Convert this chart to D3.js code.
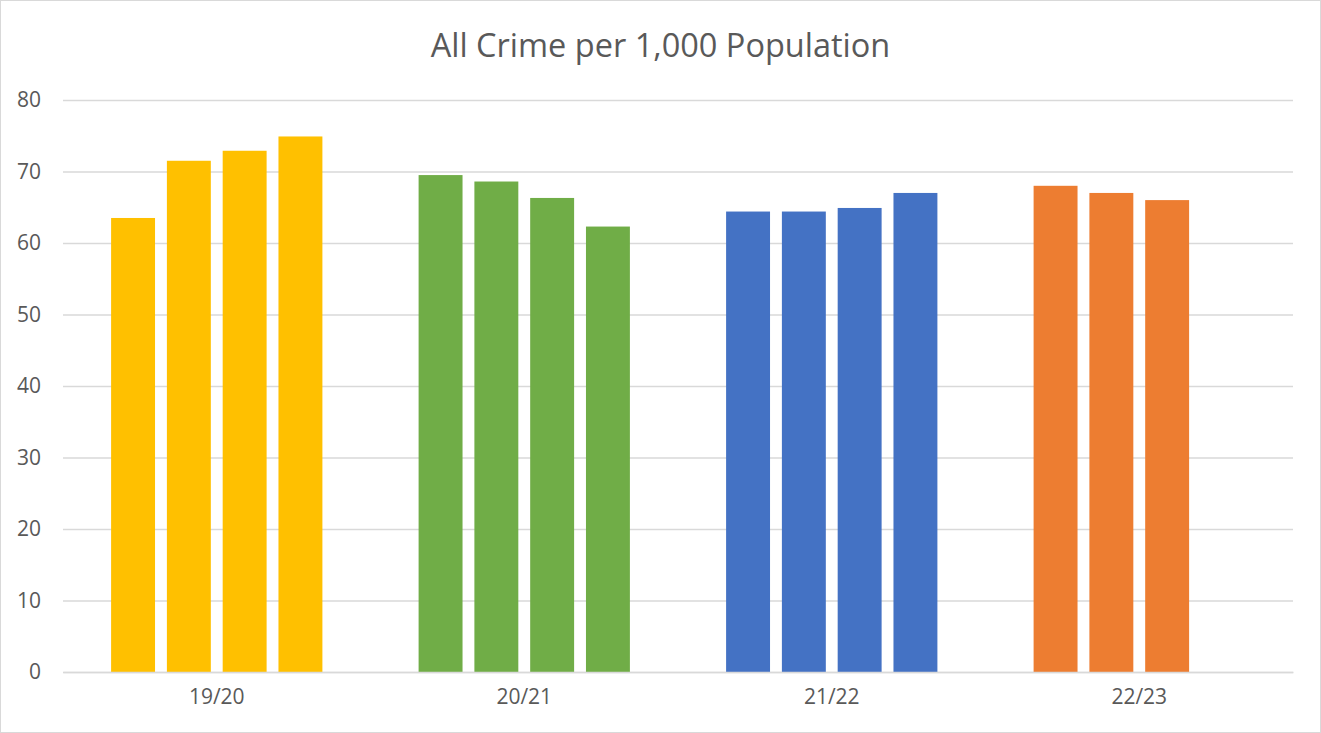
<!DOCTYPE html>
<html>
<head>
<meta charset="utf-8">
<script src="https://cdn.jsdelivr.net/npm/d3@7"></script>
<style>
  html, body { margin: 0; padding: 0; background: #fff; }
  svg { display: block; font-family: "Open Sans", "Liberation Sans", sans-serif; }
</style>
</head>
<body>
<svg id="chart" width="1321" height="733"></svg>
<script>
const title = "All Crime per 1,000 Population";
const categories = ["19/20", "20/21", "21/22", "22/23"];
const slots = ["Q1", "Q2", "Q3", "Q4"];
const values1920 = [63.5, 71.5, 72.9, 74.9];
const values2021 = [69.5, 68.6, 66.3, 62.3];
const values2122 = [64.4, 64.4, 64.9, 67.0];
const values2223 = [68.0, 67.0, 66.0];
const categoryColors = ["#FFC000", "#70AD47", "#4472C4", "#ED7D31"];
const yTicks = [0, 10, 20, 30, 40, 50, 60, 70, 80];

const seriesByCategory = [values1920, values2021, values2122, values2223];
const rows = [];
categories.forEach((c, ci) => {
  seriesByCategory[ci].forEach((v, si) => rows.push({ cat: c, slot: slots[si], value: v, color: categoryColors[ci] }));
});

const FONT = '"Open Sans", "Liberation Sans", sans-serif';
const W = 1321, H = 733;
const plot = { left: 63, right: 1293, top: 100, bottom: 672 };
const svg = d3.select("#chart");

// chart area border
svg.append("rect").attr("x", 0.5).attr("y", 0.5).attr("width", W - 1).attr("height", H - 1)
  .attr("fill", "#fff").attr("stroke", "#D9D9D9");

const y = d3.scaleLinear().domain([0, 80]).range([plot.bottom, plot.top]);
const x0 = d3.scaleBand().domain(categories).range([plot.left, plot.right]).paddingInner(0).paddingOuter(0);

// Excel-like clustered layout: gap width 219%, overlap -27%
const gapWidth = 2.19, overlap = -0.27;
const n = slots.length;
const barW = x0.bandwidth() / (n + (n - 1) * (-overlap) + gapWidth);
const groupW = barW * (n + (n - 1) * (-overlap));
const x1 = d3.scaleBand().domain(slots).range([0, groupW])
  .paddingInner((-overlap) / (1 - overlap)).paddingOuter(0);
const groupOffset = (x0.bandwidth() - groupW) / 2;

// gridlines
const yAxis = d3.axisLeft(y).tickValues(yTicks).tickSize(-(plot.right - plot.left)).tickPadding(22).tickFormat(d3.format("d"));
const gy = svg.append("g").attr("transform", `translate(${plot.left},0)`).call(yAxis)
  .attr("font-family", FONT).attr("font-size", 21);
gy.select(".domain").remove();
gy.selectAll(".tick line").attr("stroke", "#D9D9D9").attr("stroke-width", 1.3);
gy.selectAll(".tick text").attr("fill", "#595959");

// bars
svg.append("g").selectAll("rect").data(rows).join("rect")
  .attr("x", d => x0(d.cat) + groupOffset + x1(d.slot))
  .attr("width", x1.bandwidth())
  .attr("y", d => y(d.value))
  .attr("height", d => y(0) - y(d.value))
  .attr("fill", d => d.color);

// x axis
const xAxis = d3.axisBottom(x0).tickSize(0).tickPadding(17);
const gx = svg.append("g").attr("transform", `translate(0,${plot.bottom})`).call(xAxis)
  .attr("font-family", FONT).attr("font-size", 21);
gx.select(".domain").attr("stroke", "#D9D9D9").attr("stroke-width", 1.3);
gx.selectAll(".tick text").attr("fill", "#595959");

// title
svg.append("text").attr("x", W / 2).attr("y", 57).attr("text-anchor", "middle")
  .attr("font-family", FONT).attr("fill", "#595959").style("font-size", "32.5px").text(title);
</script>
</body>
</html>
